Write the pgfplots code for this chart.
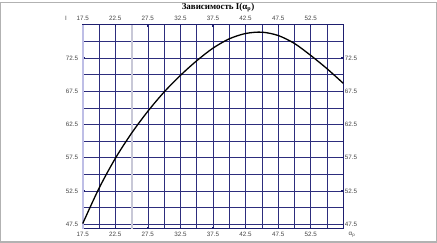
\documentclass[border=0pt]{standalone}
\usepackage{fontspec}
\setmainfont{Liberation Serif}
\setsansfont{Liberation Sans}
\usepackage{pgfplots}
\pgfplotsset{compat=1.18}
\definecolor{gridnavy}{RGB}{45,45,125}
\definecolor{axnavy}{RGB}{30,30,110}
\definecolor{lav}{RGB}{190,190,230}
\definecolor{lgray}{RGB}{200,200,215}
\definecolor{labgray}{RGB}{70,70,70}
\begin{document}
\begin{tikzpicture}[x=1bp,y=1bp]
\path (0,0) rectangle (437,241);
\draw[gray!60, line width=1.2bp] (0.6,0.6) rectangle (436.4,240.4);
\pgfplotsset{
  common/.style={
    at={(82.7bp,14bp)}, anchor=south west, scale only axis,
    width=260.6bp, height=203.7bp,
    xmin=17.5, xmax=57.5, ymin=46.85, ymax=77.5,
    xtick={17.5,22.5,27.5,32.5,37.5,42.5,47.5,52.5},
    ytick={47.5,52.5,57.5,62.5,67.5,72.5},
    ticklabel style={font=\fontsize{6.3}{7}\selectfont\sffamily, text=labgray},
    /pgf/number format/.cd, fixed, fixed zerofill, precision=1, assume math mode=true,
  }
}
\begin{axis}[common,
    minor xtick={20,25,30,35,40,45,50,55},
    minor ytick={50,55,60,65,70,75},
    grid=both,
    major grid style={draw=gridnavy, line width=0.6bp},
    minor grid style={draw=gridnavy, line width=0.6bp},
    axis line style={draw=axnavy, line width=1bp},
    tick align=inside, major tick length=2bp, minor tick length=0bp,
    tick style={draw=axnavy, line width=1.2bp},
    xtick pos=both, ytick pos=both,
    xticklabel pos=lower, yticklabel pos=left,
    xticklabel style={yshift=-0.5bp},
    yticklabel style={xshift=-1bp},
    clip=false,
  ]
  \draw[lgray, line width=2bp] (axis cs:25,46.85) -- (axis cs:25,77.5);
  \draw[lav, line width=2bp] (axis cs:17.5,46.85) -- (axis cs:17.5,77.5);
  \addplot[black, line width=1.3bp, smooth] coordinates {
    (17.5,47.6) (20,52.9) (22.5,57.4) (25,61.2) (27.5,64.5) (30,67.4)
    (32.5,69.9) (35,72.1) (37.5,74.0) (40,75.4) (42.5,76.2) (45,76.4)
    (47.5,75.9) (50,74.7) (52.5,72.9) (55,70.9) (57.5,68.7)
  };
\end{axis}
\begin{axis}[common,
    axis line style={draw=none}, tick style={draw=none},
    xticklabel pos=upper, yticklabel pos=right,
    xticklabel style={yshift=0.5bp},
    yticklabel style={xshift=-2bp},
  ]
\end{axis}
\node[font=\bfseries\fontsize{9}{10}\selectfont, anchor=center] at (218,235) {Зависимость I(α\textsubscript{р})};
\node[font=\fontsize{6.3}{7}\selectfont\sffamily, text=labgray] at (66,224) {I};
\node[font=\fontsize{6.3}{7}\selectfont\sffamily, text=labgray] at (352,8) {α\textsubscript{р}};
\end{tikzpicture}
\end{document}
